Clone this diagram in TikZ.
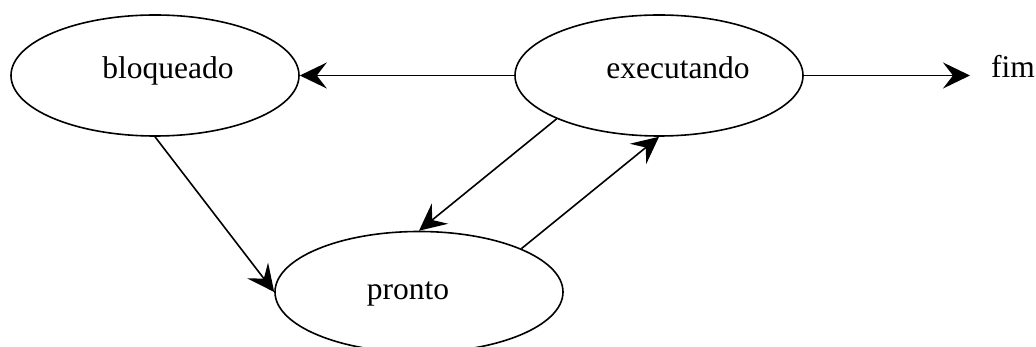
\documentclass[tikz,border=0pt]{standalone}
\usepackage{fontspec}
\setmainfont{Liberation Serif}
\usetikzlibrary{shapes.geometric,arrows.meta}
\begin{document}
\begin{tikzpicture}[x=1pt,y=-1pt,
  state/.style={draw,line width=1.6pt,ellipse,minimum width=288pt,minimum height=121pt,inner sep=0pt},
  lbl/.style={font=\fontsize{31.5}{34}\selectfont,inner sep=0pt,anchor=base},
  flow/.style={line width=1.6pt,-{Stealth[length=27pt,width=26pt,inset=10pt]}}]
\useasboundingbox (0,0) rectangle (1036,347);
% process states
\node[state] (bloq) at (155,75.5) {};
\node[state] (exec) at (659,75.5) {};
\node[state] (pront) at (419,292) {};
\node[lbl] (tbloq) at (168,79) {bloqueado};
\node[lbl] (texec) at (678,79) {executando};
\node[lbl] (tpront) at (408,300) {pronto};
\node[lbl,anchor=base west] (fim) at (991,78) {fim};
\coordinate (fimend) at (970,75.5);
% transitions
\draw[flow] (exec.west) -- (bloq.east);
\draw[flow] (exec.east) -- (fimend);
\draw[flow] (bloq.south) -- (pront.west);
\draw[flow] (exec.south west) -- (pront.north);
\draw[flow] (pront.north east) -- (exec.south);
\end{tikzpicture}
\end{document}
